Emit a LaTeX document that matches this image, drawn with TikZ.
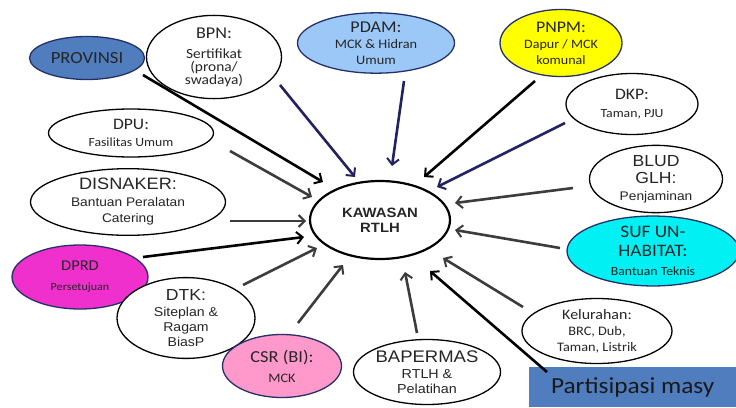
\documentclass[tikz,border=0pt]{standalone}
\usepackage{fontspec}
\setmainfont{Carlito}[FakeStretch=1.1]
\newfontfamily\arialf{Liberation Sans}[FakeStretch=1.1]
\usetikzlibrary{shapes.geometric,arrows.meta}
\definecolor{provblue}{HTML}{4F7DBE}
\definecolor{pdamblue}{HTML}{9CC8F8}
\definecolor{pnpmyel}{HTML}{FFFF00}
\definecolor{sufcyan}{HTML}{00F0F4}
\definecolor{dprdmag}{HTML}{F030CC}
\definecolor{csrpink}{HTML}{FF99CC}
\definecolor{navyline}{HTML}{22225E}
\definecolor{grayline}{HTML}{3C3C3C}
\definecolor{edgenavy}{HTML}{25306A}
\newcommand{\fsz}[2]{\fontsize{#1}{#2}\selectfont}
\tikzset{
  ell/.style={ellipse, draw=black, line width=1.3pt, inner sep=0pt, align=center, fill=white, text=black!85},
  cell/.style={ell, draw=edgenavy},
  arr/.style={line width=2.6pt, -{Straight Barb[length=6pt,width=12pt,line width=2pt]}},
}
\begin{document}
\begin{tikzpicture}[x=1pt,y=-1pt]
\useasboundingbox (0,0) rectangle (736,407);
\fill[white] (0,0) rectangle (736,407);

% nodes
\node[cell, fill=provblue, minimum width=115pt, minimum height=43pt, font=\fsz{17}{18}] (prov) at (87,58) {PROVINSI};
\node[ell, minimum width=135pt, minimum height=70pt, font=\fsz{14}{13}] (bpn) at (214,57)
  {{\fsz{16.5}{17}BPN:}\\[7pt]Sertifikat\\(prona/\\swadaya)};
\node[cell, fill=pdamblue, minimum width=157pt, minimum height=56pt, font=\fsz{13}{15.5}] (pdam) at (376,43)
  {{\fsz{16.5}{17}PDAM:}\\[1pt]MCK \& Hidran\\Umum};
\node[cell, fill=pnpmyel, minimum width=122pt, minimum height=67pt, font=\fsz{12.8}{15.5}] (pnpm) at (561,43)
  {{\fsz{16.2}{17}PNPM:}\\[1pt]Dapur / MCK\\komunal};
\node[ell, minimum width=132pt, minimum height=61pt, font=\fsz{12.5}{18}] (dkp) at (632,104)
  {{\fsz{16}{17}DKP:}\\Taman, PJU};
\node[ell, minimum width=133pt, minimum height=63pt, font=\arialf\fsz{12.5}{17}] (blud) at (656,179)
  {{\fsz{16}{17}BLUD}\\{\fsz{16}{17}GLH:}\\Penjaminan};
\node[cell, fill=sufcyan, minimum width=172pt, minimum height=66pt, font=\fsz{12.5}{19}] (suf) at (653,251)
  {{\fsz{17.5}{18}SUF UN-}\\{\fsz{17.5}{18}HABITAT:}\\Bantuan Teknis};
\node[ell, minimum width=165pt, minimum height=48pt, font=\fsz{12.5}{17}] (dpu) at (131,133)
  {{\fsz{16}{17}DPU:}\\Fasilitas Umum};
\node[ell, minimum width=195pt, minimum height=65pt, font=\arialf\fsz{12.5}{16}] (disn) at (128,202)
  {{\fsz{16.5}{17}DISNAKER:}\\[1pt]Bantuan Peralatan\\Catering};
\node[cell, fill=dprdmag, minimum width=136pt, minimum height=64pt, font=\fsz{11}{20}] (dprd) at (80,277)
  {{\fsz{15}{16}DPRD}\\Persetujuan};
\node[ell, minimum width=138pt, minimum height=65pt, font=\arialf\fsz{12.8}{15}] (dtk) at (186,318)
  {{\fsz{16}{17}DTK:}\\[1pt]Siteplan \&\\Ragam\\BiasP};
\node[cell, fill=csrpink, minimum width=119pt, minimum height=63pt, font=\fsz{13}{20}] (csr) at (282,366)
  {{\fsz{16.8}{17}CSR (BI):}\\MCK};
\node[ell, minimum width=147pt, minimum height=65pt, font=\arialf\fsz{13}{15}] (bap) at (427,372)
  {{\fsz{16.8}{17}BAPERMAS}\\[1pt]RTLH \&\\Pelatihan};
\node[ell, minimum width=150pt, minimum height=65pt, font=\fsz{13}{15.5}] (kel) at (597,331)
  {{\fsz{14.5}{17}Kelurahan:}\\[1pt]BRC, Dub,\\Taman, Listrik};
\node[ell, line width=2.2pt, minimum width=140pt, minimum height=78pt, font=\arialf\bfseries\fsz{13.5}{15}] (k) at (380,220) {KAWASAN\\RTLH};
\node[fill=provblue, minimum width=207pt, minimum height=40pt, inner sep=0pt, anchor=north west, font=\fsz{23}{24}, text=black!90] (part) at (529,367) {Partisipasi masy};

% connector end points
\coordinate (s1) at (143,75);  \coordinate (e1) at (323,182);
\coordinate (s2) at (280,85);  \coordinate (e2) at (355,177);
\coordinate (s3) at (404,81);  \coordinate (e3) at (392,166);
\coordinate (s4) at (535,81);  \coordinate (e4) at (424,177);
\coordinate (s5) at (565,123); \coordinate (e5) at (437,187);
\coordinate (s6) at (573,188); \coordinate (e6) at (455,203);
\coordinate (s7) at (560,248); \coordinate (e7) at (455,230);
\coordinate (s8) at (523,307); \coordinate (e8) at (443,258);
\coordinate (s9) at (547,372); \coordinate (e9) at (430,271);
\coordinate (s10) at (417,333); \coordinate (e10) at (405,272);
\coordinate (s11) at (298,323); \coordinate (e11) at (343,265);
\coordinate (s12) at (243,285); \coordinate (e12) at (317,248);
\coordinate (s13) at (143,257); \coordinate (e13) at (304,237);
\coordinate (s14) at (230,221); \coordinate (e14) at (306,221);
\coordinate (s15) at (230,151); \coordinate (e15) at (312,197);

\draw[arr, black] (s1) -- (e1);
\draw[arr, navyline] (s2) -- (e2);
\draw[arr, navyline] (s3) -- (e3);
\draw[arr, black] (s4) -- (e4);
\draw[arr, navyline] (s5) -- (e5);
\draw[arr, grayline] (s6) -- (e6);
\draw[arr, grayline] (s7) -- (e7);
\draw[arr, grayline] (s8) -- (e8);
\draw[arr, black] (s9) -- (e9);
\draw[arr, grayline] (s10) -- (e10);
\draw[arr, grayline] (s11) -- (e11);
\draw[arr, grayline] (s12) -- (e12);
\draw[arr, black] (s13) -- (e13);
\draw[arr, grayline] (s14) -- (e14);
\draw[arr, grayline] (s15) -- (e15);
\end{tikzpicture}
\end{document}
